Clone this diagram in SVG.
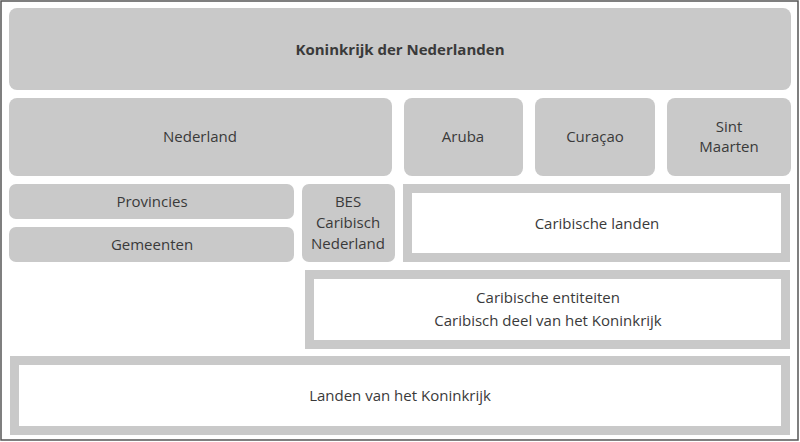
<svg xmlns="http://www.w3.org/2000/svg" width="800" height="442" viewBox="0 0 800 442">
<style>
.g{fill:#c9c9c9}
.o{fill:#fff;stroke:#c9c9c9;stroke-width:9}
text{font-family:"Open Sans","Liberation Sans",sans-serif;font-size:15px;fill:#3a3a3a;text-anchor:middle}
</style>
<rect x="0" y="0" width="800" height="442" fill="#fff"/>
<rect x="1" y="1" width="797" height="439" fill="none" stroke="#555" stroke-width="1.5"/>
<g id="koninkrijk"><rect class="g" x="9" y="8" width="782" height="82" rx="8"/><text x="400" y="55" font-weight="bold">Koninkrijk der Nederlanden</text></g>
<g id="nederland"><rect class="g" x="9" y="98" width="383" height="78" rx="8"/><text x="200" y="142">Nederland</text></g>
<g id="aruba"><rect class="g" x="404" y="98" width="119" height="78" rx="8"/><text x="463" y="142">Aruba</text></g>
<g id="curacao"><rect class="g" x="535" y="98" width="120" height="78" rx="8"/><text x="595" y="142">Curaçao</text></g>
<g id="sintmaarten"><rect class="g" x="667" y="98" width="124" height="78" rx="8"/><text x="729" y="132">Sint</text><text x="729" y="152">Maarten</text></g>
<g id="provincies"><rect class="g" x="9" y="184" width="285" height="35" rx="7"/><text x="152" y="207">Provincies</text></g>
<g id="gemeenten"><rect class="g" x="9" y="227" width="285" height="35" rx="7"/><text x="152" y="250">Gemeenten</text></g>
<g id="bes"><rect class="g" x="302" y="184" width="93" height="78" rx="7"/><text x="348" y="207">BES</text><text x="348" y="228">Caribisch</text><text x="348" y="249">Nederland</text></g>
<g id="caribischelanden"><rect class="o" x="407.5" y="188.5" width="378" height="69"/><text x="597" y="229">Caribische landen</text></g>
<g id="entiteiten"><rect class="o" x="309.5" y="274.5" width="476" height="70"/><text x="548" y="303">Caribische entiteiten</text><text x="548" y="326">Caribisch deel van het Koninkrijk</text></g>
<g id="landen"><rect class="o" x="14.5" y="360.5" width="771" height="70"/><text x="400" y="401">Landen van het Koninkrijk</text></g>
<g id="connectors"/>
</svg>
